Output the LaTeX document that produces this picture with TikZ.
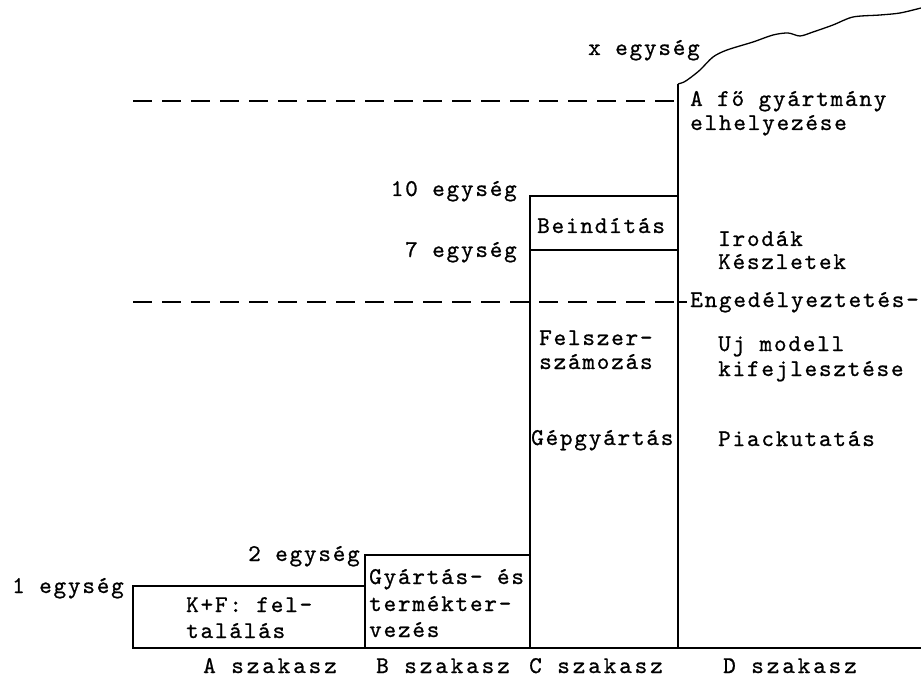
\documentclass[tikz,border=0pt]{standalone}
\usepackage{fontspec}
\newfontfamily\lmtw{lmmono10-regular.otf}[LetterSpace=7.5,FakeBold=0.8]
\newfontfamily\lmtwwide{lmmono10-regular.otf}[LetterSpace=12,FakeBold=0.8]
\newcommand\twfont{\lmtw\fontsize{24}{27}\selectfont}
\newcommand\twwidefont{\lmtwwide\fontsize{24}{27}\selectfont}
\begin{document}
\begin{tikzpicture}[x=1pt,y=-1pt,
  every node/.style={inner sep=0pt, font=\twfont},
  lft/.style={anchor=base west},
  rgt/.style={anchor=base east},
  stage/.style={anchor=base, font=\twwidefont},
  solidline/.style={line width=1.9pt},
  dashline/.style={line width=1.9pt, dash pattern=on 19pt off 10pt},
  wavyline/.style={line width=1.3pt}]
\useasboundingbox (0,0) rectangle (921,679);
% coordinates of the staircase
\coordinate (a1) at (133,586); \coordinate (a2) at (365,648);
\coordinate (b1) at (365,555); \coordinate (b2) at (530,648);
\coordinate (c1) at (530,196); \coordinate (c2) at (678,648);
\coordinate (cm1) at (530,250); \coordinate (cm2) at (678,250);
\coordinate (dtop) at (678,84); \coordinate (dbot) at (678,648);
\coordinate (dend) at (921,648);
\coordinate (t1) at (133,101); \coordinate (t2) at (678,101);
\coordinate (m1) at (133,302); \coordinate (m2) at (678,302); \coordinate (m3) at (687,302);
% boxes
\draw[solidline] (a1) rectangle (a2);
\draw[solidline] (b1) rectangle (b2);
\draw[solidline] (c1) rectangle (c2);
\draw[solidline] (cm1) -- (cm2);
\draw[solidline] (dtop) -- (dbot) -- (dend);
% wavy top of D
\draw[wavyline] plot[smooth, tension=0.5] coordinates {(678,84) (684,82) (690,78) (700,70) (713,57) (727,50) (753,42) (773,35) (788,33) (800,36) (813,32) (833,25) (853,17) (880,15) (900,13) (921,8)};
% dashed lines
\draw[dashline] (t1) -- (t2);
\draw[dashline] (m1) -- (m2);
\draw[solidline] (m2) -- (m3);
% labels
\node[lft] (xe) at (588,55) {x egység};
\node[lft] (af) at (690,106) {A fő gyártmány};
\node[lft] (el) at (690,130) {elhelyezése};
\node[rgt] (e10) at (517,196) {10 egység};
\node[lft] (bei) at (537,233) {Beindítás};
\node[rgt] (e7) at (517,257) {7 egység};
\node[lft] (iro) at (718,246) {Irodák};
\node[lft] (kesz) at (718,269) {Készletek};
\node[lft] (eng) at (690,307) {Engedélyeztetés-};
\node[lft] (fel) at (539,345) {Felszer-};
\node[lft] (szam) at (539,369) {számozás};
\node[lft] (uj) at (718,351) {Uj modell};
\node[lft] (kif) at (718,376) {kifejlesztése};
\node[lft] (gep) at (531,445) {Gépgyártás};
\node[lft] (pia) at (718,446) {Piackutatás};
\node[rgt] (e2) at (360,561) {2 egység};
\node[lft] (e1) at (12,593) {1 egység};
\node[lft] (kf) at (186,612) {K+F: fel-};
\node[lft] (tal) at (186,638) {találás};
\node[lft] (gy) at (369,584) {Gyártás- és};
\node[lft] (ter) at (369,611) {termékter-};
\node[lft] (vez) at (369,637) {vezés};
\node[stage] (sa) at (270,673) {A szakasz};
\node[stage] (sb) at (443,673) {B szakasz};
\node[stage] (sc) at (596,673) {C szakasz};
\node[stage] (sd) at (790,673) {D szakasz};
\end{tikzpicture}
\end{document}
